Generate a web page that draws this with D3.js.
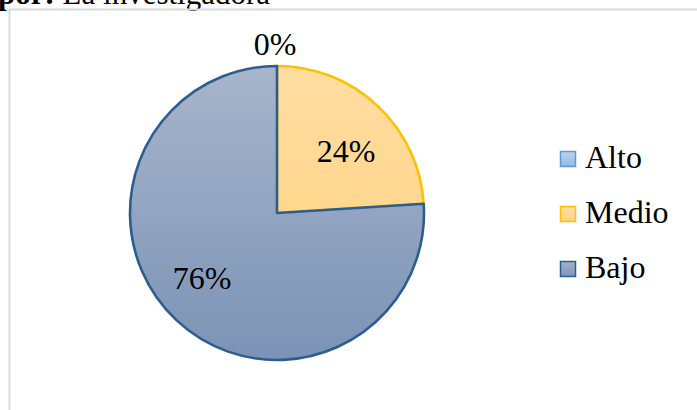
<!DOCTYPE html>
<html><head><meta charset="utf-8">
<script src="https://cdn.jsdelivr.net/npm/d3@7"></script>
<style>html,body{margin:0;padding:0;background:#fff;overflow:hidden}svg{display:block}</style>
</head><body>
<script>
const categories = ["Alto", "Medio", "Bajo"];
const values = [0, 24, 76];
const labels = ["0%", "24%", "76%"];

const W = 697, H = 410;
const svg = d3.select("body").append("svg").attr("width", W).attr("height", H);
const font = "'Liberation Serif','Times New Roman',serif";

const cx = 277, cy = 213, r = 147;

const defs = svg.append("defs");
const grads = [
  {id:"gAlto", top:"#b9d3ee", bot:"#8fb6e0"},
  {id:"gMedio", top:"#ffdda2", bot:"#ffd07a"},
  {id:"gBajo", top:"#a8b5cb", bot:"#7b93b6"}
];
grads.forEach(g => {
  const lg = defs.append("linearGradient").attr("id", g.id)
    .attr("gradientUnits","userSpaceOnUse")
    .attr("x1",0).attr("y1",-r).attr("x2",0).attr("y2",r);
  lg.append("stop").attr("offset","0%").attr("stop-color", g.top);
  lg.append("stop").attr("offset","100%").attr("stop-color", g.bot);
});
const lgGrads = [
  {id:"lAlto", top:"#bcd5ef", bot:"#92b8e0"},
  {id:"lMedio", top:"#ffe0a6", bot:"#ffd27c"},
  {id:"lBajo", top:"#a5b3ca", bot:"#7d94b7"}
];
lgGrads.forEach(g => {
  const lg = defs.append("linearGradient").attr("id", g.id)
    .attr("x1",0).attr("y1",0).attr("x2",0).attr("y2",1);
  lg.append("stop").attr("offset","0%").attr("stop-color", g.top);
  lg.append("stop").attr("offset","100%").attr("stop-color", g.bot);
});
const fills = ["url(#gAlto)", "url(#gMedio)", "url(#gBajo)"];
const legFills = ["url(#lAlto)", "url(#lMedio)", "url(#lBajo)"];
const strokes = ["#5b9bd5", "#ffc000", "#2c5d90"];

// top caption (cut off, as in the reference)
const cap = svg.append("text").attr("x", -2).attr("y", 4)
  .attr("font-family", font).attr("font-size", 31).attr("fill", "#000");
cap.append("tspan").attr("font-weight", "bold").text("por: ");
cap.append("tspan").text("La investigadora");

// chart border
svg.append("path").attr("d", `M9.5,${H} L9.5,9.5 L${W},9.5`)
  .attr("fill","none").attr("stroke","#d9d9d9").attr("stroke-width",2);

const pie = d3.pie().sort(null).value(d => d.v);
const data = categories.map((c,i) => ({c, v: values[i], i}));
const arcs = pie(data);
const arc = d3.arc().innerRadius(0).outerRadius(r);
const g = svg.append("g").attr("transform", `translate(${cx},${cy})`);
g.selectAll("path").data(arcs).enter().append("path")
  .attr("d", arc)
  .attr("fill", d => fills[d.data.i])
  .attr("stroke", d => strokes[d.data.i])
  .attr("stroke-width", 2.6)
  .attr("stroke-linejoin","round");

// data labels
const labelPos = [[275, 55], [346, 162], [202, 289]];
svg.selectAll("text.lbl").data(arcs).enter().append("text").attr("class","lbl")
  .attr("x", (d,i) => labelPos[i][0]).attr("y", (d,i) => labelPos[i][1])
  .attr("text-anchor","middle").attr("font-family", font).attr("font-size", 32)
  .attr("fill","#000").text((d,i) => labels[i]);

// legend
const lg = svg.append("g");
const ly = d3.scalePoint().domain(categories).range([159, 269]);
categories.forEach((c,i) => {
  lg.append("rect").attr("x", 560.5).attr("y", ly(c) - 7.5).attr("width", 15).attr("height", 15)
    .attr("fill", legFills[i]).attr("stroke", strokes[i]).attr("stroke-width", 1.5);
  lg.append("text").attr("x", 585).attr("y", ly(c) + 8.5)
    .attr("font-family", font).attr("font-size", 32).attr("fill","#000").text(c);
});
</script>
</body></html>
